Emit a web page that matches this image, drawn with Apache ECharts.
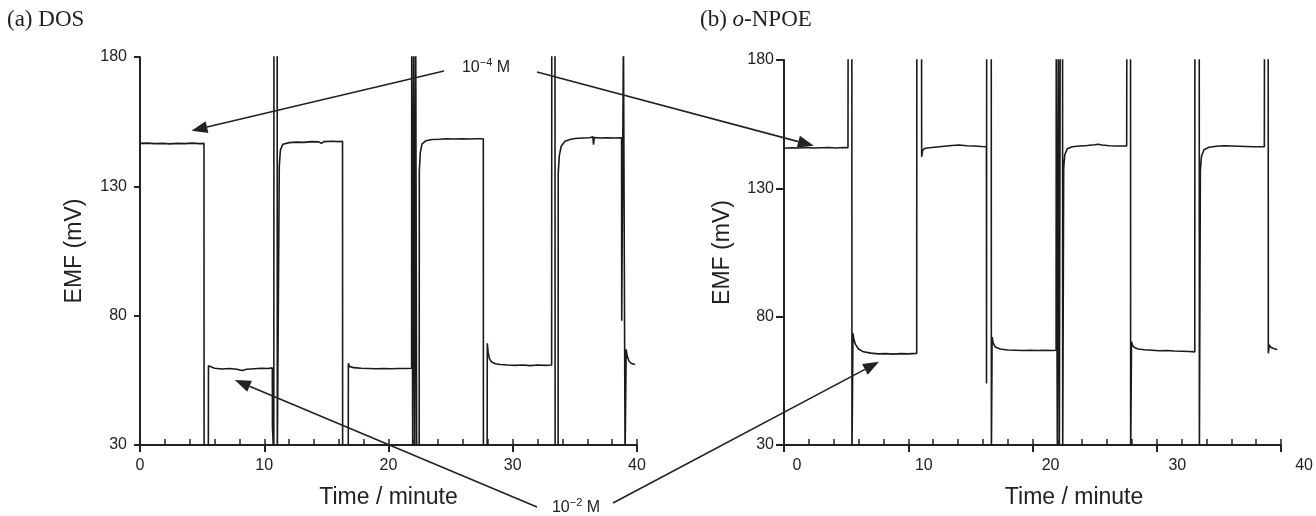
<!DOCTYPE html>
<html>
<head>
<meta charset="utf-8">
<script src="https://cdn.jsdelivr.net/npm/echarts@6/dist/echarts.min.js"></script>
<style>
  html, body { margin: 0; background: #fff; }
  #chart { width: 1316px; height: 516px; }
</style>
</head>
<body>
<div id="chart"></div>
<script>
// EMF response traces, [time (min), EMF (mV)].
// Off-scale excursions are written as 190 / 25 and clipped by the grid.
const dosTrace = [
  [0, 146.6], [0.6, 146.7], [1.2, 146.5], [1.8, 146.6], [2.4, 146.4], [3.0, 146.6], [3.6, 146.5], [4.2, 146.7], [4.8, 146.5], [5.15, 146.6],
  [5.16, 25], [5.5, 25],
  [5.51, 60.6], [5.6, 60.1], [6.0, 59.7], [6.6, 59.4], [7.2, 59.6], [7.8, 59.3], [8.2, 58.8], [8.6, 59.3], [9.2, 59.5], [9.8, 59.7], [10.3, 59.6], [10.65, 59.8],
  [10.66, 37], [10.77, 25], [10.78, 190], [11.04, 190], [11.05, 25], [11.2, 25],
  [11.21, 138], [11.3, 144], [11.5, 146.3], [12.0, 146.9], [12.6, 147.1], [13.2, 147.0], [13.8, 147.3], [14.4, 147.2], [14.6, 146.6], [14.8, 147.3], [15.4, 147.4], [16.0, 147.3], [16.3, 147.4],
  [16.31, 25], [16.76, 25],
  [16.77, 61.6], [16.85, 60.4], [17.2, 59.9], [17.8, 59.7], [18.4, 59.6], [19.0, 59.5], [19.6, 59.6], [20.2, 59.5], [20.8, 59.6], [21.4, 59.6], [21.86, 59.7],
  [21.87, 190], [21.94, 190], [21.95, 25], [22.02, 25], [22.03, 190], [22.1, 190], [22.11, 25], [22.18, 25], [22.19, 190], [22.26, 190], [22.27, 25], [22.47, 25],
  [22.48, 136], [22.56, 143], [22.7, 146.4], [23.0, 147.6], [23.5, 148.1], [24.1, 148.2], [24.7, 148.4], [25.3, 148.3], [25.9, 148.4], [26.5, 148.3], [27.1, 148.4], [27.63, 148.4],
  [27.64, 25], [27.94, 25],
  [27.95, 69.3], [28.02, 65.8], [28.12, 63.4], [28.3, 62.1], [28.6, 61.4], [29.0, 61.1], [29.6, 60.9], [30.2, 60.8], [30.8, 60.9], [31.4, 60.7], [32.0, 60.9], [32.6, 60.8], [33.13, 60.9],
  [33.14, 190], [33.4, 190], [33.41, 25], [33.65, 25],
  [33.66, 135], [33.75, 142], [33.9, 145.5], [34.2, 147.4], [34.6, 148.1], [35.0, 148.5], [35.6, 148.7], [36.2, 148.8], [36.45, 149.2], [36.5, 146.1], [36.56, 148.9], [37.0, 148.7], [37.6, 148.8], [38.2, 148.7], [38.76, 148.8],
  [38.77, 78], [38.9, 78], [38.91, 190], [39.03, 190], [39.04, 25], [39.12, 25],
  [39.13, 67], [39.2, 64.6], [39.35, 62.5], [39.55, 61.5], [39.84, 61.1]
];

const npoeTrace = [
  [0.05, 145.6], [0.6, 145.8], [1.2, 145.7], [1.8, 145.9], [2.4, 145.7], [3.0, 145.8], [3.6, 145.9], [4.2, 145.7], [4.8, 145.9], [5.15, 145.8],
  [5.16, 190], [5.46, 190], [5.47, 25], [5.54, 25],
  [5.55, 73.5], [5.62, 71.2], [5.75, 69.2], [6.0, 67.4], [6.4, 66.3], [7.0, 65.8], [7.6, 65.5], [8.2, 65.6], [8.8, 65.4], [9.4, 65.6], [10.0, 65.5], [10.68, 65.7],
  [10.69, 190], [11.07, 190],
  [11.08, 142.3], [11.15, 144.6], [11.3, 145.5], [11.7, 145.8], [12.3, 146.1], [12.9, 146.4], [13.5, 146.7], [14.1, 146.9], [14.7, 146.6], [15.3, 146.5], [15.9, 146.3], [16.29, 146.2],
  [16.3, 54], [16.31, 190], [16.68, 190], [16.69, 25], [16.74, 25],
  [16.75, 72], [16.83, 69.8], [17.0, 68.2], [17.4, 67.4], [18.0, 67.0], [18.6, 66.9], [19.2, 66.8], [19.8, 66.9], [20.4, 66.8], [21.0, 66.9], [21.6, 66.8], [21.9, 66.9],
  [21.91, 190], [21.99, 190], [22.0, 25], [22.07, 25], [22.08, 190], [22.15, 190], [22.16, 25], [22.22, 25], [22.23, 190], [22.42, 190], [22.43, 25], [22.5, 25],
  [22.51, 138], [22.6, 143.2], [22.8, 145.4], [23.2, 146.2], [23.8, 146.5], [24.4, 146.7], [25.0, 147.0], [25.3, 147.2], [25.6, 146.9], [26.2, 146.6], [26.8, 146.5], [27.58, 146.5],
  [27.59, 190], [27.89, 190], [27.9, 25], [27.96, 25],
  [27.97, 70.2], [28.05, 68.9], [28.2, 68.0], [28.5, 67.4], [29.0, 67.1], [29.6, 66.9], [30.2, 66.7], [30.8, 66.8], [31.4, 66.6], [32.0, 66.5], [32.6, 66.4], [33.06, 66.3],
  [33.07, 190], [33.42, 190], [33.43, 25], [33.5, 25],
  [33.51, 137], [33.6, 142.5], [33.8, 145.0], [34.2, 146.0], [34.8, 146.4], [35.4, 146.6], [36.0, 146.5], [36.6, 146.4], [37.2, 146.3], [37.8, 146.2], [38.66, 146.2],
  [38.67, 190], [38.97, 190],
  [38.98, 65.7], [39.05, 69], [39.2, 68], [39.45, 67.5], [39.7, 67.2]
];

// arrow tips in data coordinates: [left panel, right panel]
const highTargets = [[4.14, 151.5], [2.4, 146.6]];
const lowTargets = [[7.63, 55.1], [7.65, 62.4]];

const timeRange = [0, 40];
const emfRange = [30, 180];

var ink = '#222';
var sans = 'Liberation Sans, Arial, sans-serif';
var serif = 'Liberation Serif, Times New Roman, serif';

var chart = echarts.init(document.getElementById('chart'));

function yAxisFor(grid, tickLen, labelGap, nameGap) {
  return {
    type: 'value', gridIndex: grid, min: emfRange[0], max: emfRange[1], interval: 50,
    name: 'EMF (mV)', nameLocation: 'middle', nameGap: nameGap, nameRotate: 90,
    nameTextStyle: { fontFamily: sans, fontSize: 23, color: ink },
    axisLine: { show: true, onZero: false, lineStyle: { color: ink, width: 2 } },
    axisTick: { show: true, length: tickLen, lineStyle: { color: ink, width: 2 } },
    axisLabel: { margin: labelGap, fontFamily: sans, fontSize: 16, color: ink },
    splitLine: { show: false }
  };
}

function majorX(grid, withLabels) {
  return {
    type: 'value', gridIndex: grid, min: timeRange[0], max: timeRange[1], interval: 10, position: 'bottom',
    name: withLabels ? 'Time / minute' : '', nameLocation: 'middle', nameGap: 41,
    nameTextStyle: { fontFamily: sans, fontSize: 23, color: ink },
    axisLine: { onZero: false, lineStyle: { color: ink, width: 2 } },
    axisTick: { length: 7, lineStyle: { color: ink, width: 2 } },
    axisLabel: { show: withLabels, margin: 13, fontFamily: sans, fontSize: 16, color: ink },
    splitLine: { show: false }
  };
}

function minorX(grid) {
  return {
    type: 'value', gridIndex: grid, min: timeRange[0], max: timeRange[1], interval: 2, position: 'bottom',
    axisLine: { show: false, onZero: false },
    axisTick: { inside: true, length: 6, lineStyle: { color: ink, width: 1.5 } },
    axisLabel: { show: false },
    splitLine: { show: false }
  };
}

var traceStyle = { color: '#1a1a1a', width: 1.6 };

chart.setOption({
  animation: false,
  backgroundColor: '#fff',
  title: [
    { text: '(a) DOS', left: 7, top: 8, padding: 0,
      textStyle: { fontFamily: serif, fontSize: 23, fontWeight: 'normal', color: ink } },
    { text: '(b) {i|o}-NPOE', left: 700, top: 8, padding: 0,
      textStyle: { fontFamily: serif, fontSize: 23, fontWeight: 'normal', color: ink,
        rich: { i: { fontFamily: serif, fontSize: 23, fontStyle: 'italic', color: ink } } } }
  ],
  grid: [
    { left: 140, top: 57, width: 497, height: 388 },
    { left: 784, top: 60, width: 497, height: 385 },
    // label strip of panel (b): its labels sit a little right of the ticks
    { left: 797, top: 60, width: 509, height: 385 }
  ],
  xAxis: [
    majorX(0, true),
    minorX(0),
    majorX(1, false),
    minorX(1),
    {
      type: 'value', gridIndex: 2, min: timeRange[0], max: timeRange[1], interval: 10, position: 'bottom',
      name: 'Time / minute', nameLocation: 'middle', nameGap: 41,
      nameTextStyle: { fontFamily: sans, fontSize: 23, color: ink, padding: [0, 0, 0, 47] },
      axisLine: { show: false }, axisTick: { show: false },
      axisLabel: { margin: 13, fontFamily: sans, fontSize: 16, color: ink },
      splitLine: { show: false }
    }
  ],
  yAxis: [
    yAxisFor(0, 6, 13, 54),
    yAxisFor(1, 8, 10, 50),
    { type: 'value', gridIndex: 2, min: emfRange[0], max: emfRange[1], show: false }
  ],
  series: [
    { type: 'line', xAxisIndex: 0, yAxisIndex: 0, data: dosTrace, showSymbol: false, clip: true, lineStyle: traceStyle },
    { type: 'line', xAxisIndex: 2, yAxisIndex: 1, data: npoeTrace, showSymbol: false, clip: true, lineStyle: traceStyle }
  ]
});

// annotation arrows
function arrow(from, to) {
  var dx = to[0] - from[0], dy = to[1] - from[1];
  var len = Math.sqrt(dx * dx + dy * dy);
  var ux = dx / len, uy = dy / len, head = 16, half = 6;
  var bx = to[0] - ux * head, by = to[1] - uy * head;
  return [
    { type: 'line', z: 100, shape: { x1: from[0], y1: from[1], x2: bx, y2: by }, style: { stroke: ink, lineWidth: 1.6 } },
    { type: 'polygon', z: 100, shape: { points: [to, [bx - uy * half, by + ux * half], [bx + uy * half, by - ux * half]] }, style: { fill: ink } }
  ];
}

function conc(text, x, y) {
  return {
    type: 'text', z: 100, x: x, y: y,
    style: {
      text: text, align: 'center', verticalAlign: 'middle',
      rich: {
        n: { fontFamily: sans, fontSize: 16, lineHeight: 22, fill: ink },
        s: { fontFamily: sans, fontSize: 11, lineHeight: 11, verticalAlign: 'top', fill: ink }
      }
    }
  };
}

var hl = chart.convertToPixel({ seriesIndex: 0 }, highTargets[0]);
var hr = chart.convertToPixel({ seriesIndex: 1 }, highTargets[1]);
var ll = chart.convertToPixel({ seriesIndex: 0 }, lowTargets[0]);
var lr = chart.convertToPixel({ seriesIndex: 1 }, lowTargets[1]);

var graphics = [].concat(
  arrow([444, 71], hl), arrow([537, 72], hr),
  arrow([537, 507], ll), arrow([613, 503], lr),
  [conc('{n|10}{s|−4}{n| M}', 486, 68), conc('{n|10}{s|−2}{n| M}', 576, 508)]
);
chart.setOption({ graphic: graphics });
</script>
</body>
</html>
